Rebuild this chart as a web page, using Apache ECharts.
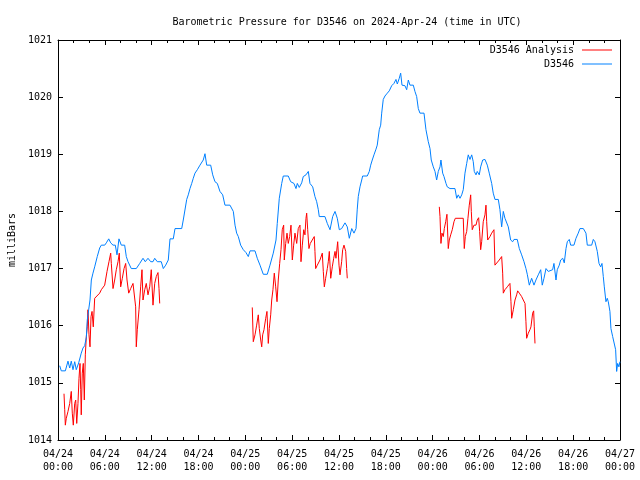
<!DOCTYPE html>
<html>
<head>
<meta charset="utf-8">
<script src="https://cdn.jsdelivr.net/npm/echarts@6/dist/echarts.min.js"></script>
<style>html,body{margin:0;padding:0;background:#fff}#c{width:640px;height:480px}</style>
</head>
<body>
<div id="c"></div>
<script>
// Hours since 2024-04-24 00:00 UTC
var blueHours = [0.22,0.42,0.94,1.28,1.50,1.70,1.92,2.14,2.34,2.65,2.98,3.20,3.42,3.63,3.75,3.93,4.10,4.27,4.48,4.70,5.03,5.34,5.55,5.76,5.98,6.19,6.50,6.75,7.05,7.34,7.56,7.81,8.11,8.54,8.75,8.97,9.39,10.03,10.47,10.89,11.18,11.53,11.88,12.17,12.39,12.72,13.23,13.45,13.49,13.80,14.13,14.35,14.77,14.99,15.85,16.05,16.27,16.49,16.69,16.91,17.13,17.33,17.55,17.85,18.19,18.61,18.83,19.05,19.56,19.82,20.11,20.41,20.75,21.10,21.39,22.03,22.46,22.68,22.89,23.10,23.40,23.74,24.08,24.38,24.60,25.24,25.53,25.88,26.30,26.81,27.16,27.58,27.93,28.09,28.35,28.66,28.86,29.50,29.81,30.23,30.49,30.66,30.91,31.22,31.42,31.77,32.07,32.28,32.63,32.92,33.14,33.35,33.47,34.20,34.50,34.85,35.19,35.49,35.78,36.04,36.34,36.77,37.06,37.32,37.63,37.92,38.18,38.34,38.47,38.69,38.91,39.03,39.62,39.88,40.06,40.26,40.48,40.74,40.90,41.16,41.34,41.47,41.67,41.89,42.19,42.44,42.75,43.04,43.30,43.47,43.72,43.90,44.07,44.45,44.67,44.88,45.09,45.52,45.73,45.95,46.16,46.37,46.89,47.14,47.44,47.66,47.82,48.08,48.30,48.51,48.72,48.94,49.06,49.28,49.45,49.71,49.87,50.22,50.86,51.08,51.28,51.50,51.72,51.92,52.14,52.36,52.56,52.78,53.00,53.20,53.33,53.55,53.71,53.97,54.15,54.41,54.70,55.00,55.25,55.56,55.76,55.98,56.41,56.62,56.84,57.05,57.26,57.48,57.69,57.99,58.25,58.42,58.84,59.10,59.40,59.70,59.95,60.12,60.38,60.68,60.98,61.23,61.53,61.84,62.04,62.26,62.52,62.81,63.03,63.37,63.54,63.80,63.96,64.22,64.40,64.66,64.86,65.08,65.25,65.50,65.68,66.10,66.36,66.65,66.87,67.30,67.64,67.81,68.37,68.58,68.79,69.09,69.31,69.52,69.69,69.86,69.99,70.20,70.37,70.50,70.71,70.84,71.06,71.27,71.44,71.57,71.70,71.86,71.99];
var bluePressure = [1015.30,1015.21,1015.21,1015.38,1015.26,1015.38,1015.23,1015.37,1015.23,1015.35,1015.52,1015.61,1015.65,1015.80,1016.10,1016.28,1016.45,1016.80,1016.92,1017.03,1017.21,1017.36,1017.41,1017.40,1017.41,1017.45,1017.52,1017.45,1017.41,1017.41,1017.24,1017.52,1017.41,1017.41,1017.21,1017.12,1017.00,1017.00,1017.09,1017.18,1017.12,1017.18,1017.12,1017.12,1017.18,1017.12,1017.12,1017.09,1017.00,1017.06,1017.15,1017.52,1017.52,1017.70,1017.70,1017.85,1017.88,1018.21,1018.29,1018.40,1018.49,1018.58,1018.67,1018.73,1018.81,1018.90,1019.01,1018.81,1018.81,1018.64,1018.52,1018.49,1018.35,1018.29,1018.11,1018.11,1018.00,1017.76,1017.62,1017.56,1017.41,1017.33,1017.28,1017.21,1017.31,1017.31,1017.18,1017.06,1016.90,1016.90,1017.06,1017.27,1017.50,1017.79,1018.23,1018.49,1018.62,1018.62,1018.52,1018.49,1018.40,1018.49,1018.42,1018.50,1018.61,1018.64,1018.70,1018.49,1018.43,1018.26,1018.17,1018.03,1017.91,1017.91,1017.79,1017.68,1017.91,1018.00,1017.88,1017.68,1017.70,1017.80,1017.73,1017.53,1017.70,1017.62,1017.70,1018.04,1018.26,1018.43,1018.55,1018.62,1018.62,1018.70,1018.81,1018.90,1018.99,1019.09,1019.16,1019.43,1019.51,1019.72,1019.96,1020.02,1020.07,1020.11,1020.20,1020.24,1020.31,1020.23,1020.33,1020.42,1020.21,1020.20,1020.13,1020.30,1020.21,1020.21,1020.10,1020.01,1019.80,1019.72,1019.72,1019.43,1019.22,1019.10,1018.90,1018.78,1018.70,1018.55,1018.70,1018.78,1018.90,1018.67,1018.61,1018.49,1018.43,1018.40,1018.40,1018.23,1018.29,1018.23,1018.29,1018.38,1018.67,1018.84,1018.99,1018.91,1018.99,1018.87,1018.70,1018.64,1018.70,1018.64,1018.78,1018.90,1018.91,1018.81,1018.67,1018.49,1018.32,1018.21,1018.21,1018.03,1017.73,1018.00,1017.88,1017.91,1017.73,1017.50,1017.47,1017.51,1017.51,1017.35,1017.24,1017.12,1017.00,1016.90,1016.71,1016.83,1016.71,1016.80,1016.89,1016.98,1016.71,1016.83,1017.00,1016.95,1016.92,1016.98,1017.09,1016.80,1016.98,1017.06,1017.15,1017.18,1017.10,1017.35,1017.47,1017.51,1017.41,1017.41,1017.53,1017.62,1017.70,1017.70,1017.62,1017.41,1017.41,1017.51,1017.47,1017.30,1017.09,1017.03,1017.09,1016.86,1016.68,1016.42,1016.48,1016.42,1016.25,1015.95,1015.81,1015.78,1015.58,1015.20,1015.34,1015.28,1015.37];

// Analysis series; null pressure marks a gap between runs
var analysisHours = [0.77,0.86,0.94,1.06,1.28,1.50,1.70,1.83,1.96,2.14,2.27,2.40,2.56,2.69,2.82,2.91,2.98,3.11,3.24,3.37,3.50,3.63,3.75,3.84,3.97,4.10,4.23,4.36,4.52,4.70,4.91,5.34,5.55,5.98,6.28,6.53,6.75,6.83,7.05,7.26,7.47,7.69,7.85,8.03,8.24,8.46,8.67,8.84,9.06,9.31,9.61,9.83,9.95,10.03,10.16,10.38,10.59,10.76,10.89,11.11,11.31,11.53,11.75,11.95,12.17,12.39,12.59,12.81,12.94,13.03,
  18.0,
  24.89,25.02,25.24,25.45,25.66,25.79,25.97,26.10,26.22,26.39,26.61,26.77,26.94,27.07,27.25,27.38,27.54,27.71,27.89,28.06,28.22,28.40,28.57,28.73,28.91,28.99,29.17,29.34,29.50,29.68,29.85,30.02,30.19,30.36,30.58,30.78,31.00,31.13,31.30,31.48,31.64,31.77,31.86,31.99,32.15,32.32,32.50,32.83,32.92,33.01,33.22,33.56,33.86,33.99,34.12,34.29,34.50,34.63,34.76,34.94,35.14,35.32,35.49,35.61,35.83,36.00,36.13,36.34,36.47,36.64,36.77,36.86,36.98,37.06,
  42.0,
  48.85,48.94,49.06,49.19,49.36,49.49,49.67,49.83,50.00,50.13,50.31,50.51,50.73,50.90,51.92,52.05,52.18,52.36,52.52,52.69,52.87,52.95,53.07,53.29,53.55,53.71,53.89,54.02,54.15,54.28,54.48,54.70,54.83,54.92,55.05,55.34,55.56,55.85,55.98,56.20,56.53,56.84,56.97,57.05,57.26,57.56,57.90,58.03,58.12,58.33,58.55,58.76,58.89,59.10,59.40,59.61,59.83,59.95,60.04,60.25,60.46,60.59,60.81,60.94,61.02,61.11];
var analysisPressure = [1014.81,1014.53,1014.26,1014.38,1014.50,1014.64,1014.85,1014.47,1014.26,1014.64,1014.70,1014.29,1014.64,1015.08,1015.34,1014.88,1014.44,1015.17,1015.34,1014.70,1015.49,1015.81,1015.98,1016.28,1015.84,1015.63,1016.16,1016.25,1015.98,1016.48,1016.51,1016.57,1016.63,1016.71,1016.95,1017.12,1017.27,1017.09,1016.65,1016.80,1016.98,1017.12,1017.27,1016.68,1016.83,1017.00,1017.09,1016.80,1016.57,1016.65,1016.74,1016.77,1016.33,1015.63,1015.93,1016.28,1016.68,1016.98,1016.45,1016.63,1016.74,1016.54,1016.68,1016.98,1016.36,1016.74,1016.86,1016.93,1016.65,1016.39,
  null,
  1016.32,1015.72,1015.84,1016.01,1016.19,1015.95,1015.75,1015.63,1015.84,1015.93,1016.13,1016.25,1015.69,1015.95,1016.19,1016.45,1016.63,1016.92,1016.68,1016.42,1016.80,1017.09,1017.33,1017.68,1017.76,1017.15,1017.44,1017.62,1017.44,1017.56,1017.76,1017.15,1017.41,1017.62,1017.44,1017.70,1017.76,1017.12,1017.41,1017.68,1017.59,1017.88,1017.97,1017.68,1017.35,1017.44,1017.47,1017.56,1017.30,1017.00,1017.06,1017.15,1017.27,1016.95,1016.68,1016.83,1017.00,1017.12,1017.30,1016.83,1017.03,1017.18,1017.30,1017.18,1017.47,1017.06,1016.89,1017.12,1017.33,1017.41,1017.44,1017.30,1017.00,1016.83,
  null,
  1018.08,1017.91,1017.44,1017.62,1017.56,1017.70,1017.82,1017.95,1017.35,1017.50,1017.59,1017.68,1017.82,1017.88,1017.88,1017.35,1017.56,1017.65,1017.88,1018.11,1018.29,1018.00,1017.68,1017.76,1017.76,1017.85,1017.89,1017.65,1017.33,1017.47,1017.82,1017.94,1018.11,1017.82,1017.50,1017.56,1017.62,1017.68,1017.06,1017.09,1017.15,1017.21,1016.92,1016.57,1016.63,1016.68,1016.74,1016.42,1016.13,1016.28,1016.45,1016.54,1016.61,1016.57,1016.51,1016.45,1016.39,1016.07,1015.78,1015.87,1015.93,1015.98,1016.22,1016.26,1015.98,1015.69];

var xTickLabels = ['04/24\n00:00','04/24\n06:00','04/24\n12:00','04/24\n18:00','04/25\n00:00','04/25\n06:00','04/25\n12:00','04/25\n18:00','04/26\n00:00','04/26\n06:00','04/26\n12:00','04/26\n18:00','04/27\n00:00'];
var seriesNames = ['D3546 Analysis', 'D3546'];
var titleText = 'Barometric Pressure for D3546 on 2024-Apr-24 (time in UTC)';
var yAxisTitle = 'milliBars';

function pairs(xs, ys) {
  var out = [];
  for (var i = 0; i < xs.length; i++) out.push([xs[i], ys[i] === null ? '-' : ys[i]]);
  return out;
}

var FONT = 'DejaVu Sans Mono';
var chart = echarts.init(document.getElementById('c'), null, {renderer: 'canvas'});
var axisLine = {show: true, onZero: false, lineStyle: {color: '#000', width: 1}};
chart.setOption({
  animation: false,
  backgroundColor: '#fff',
  textStyle: {fontFamily: FONT, color: '#000', fontSize: 10},
  title: {
    text: titleText, left: 342, top: 12, textAlign: 'center',
    textStyle: {fontFamily: FONT, fontSize: 10, fontWeight: 'normal', color: '#000'}
  },
  legend: {
    orient: 'vertical', right: 28, top: 45, padding: 0, itemGap: 4,
    align: 'right', itemWidth: 30, itemHeight: 1,
    icon: 'rect',
    textStyle: {fontFamily: FONT, fontSize: 10, color: '#000', padding: [0, 3, 0, 0]},
    data: seriesNames
  },
  grid: {left: 58, right: 20, top: 40, bottom: 40, containLabel: false, outerBoundsMode: 'none'},
  xAxis: [{
    type: 'value', min: 0, max: 72, interval: 6, position: 'bottom',
    axisLine: axisLine,
    axisTick: {show: true, inside: true, length: 5, lineStyle: {color: '#000'}},
    minorTick: {show: true, splitNumber: 3, length: 3, lineStyle: {color: '#000'}},
    splitLine: {show: false},
    axisLabel: {
      margin: 8, fontFamily: FONT, fontSize: 10, color: '#000', lineHeight: 13,
      formatter: function (v) { return xTickLabels[Math.round(v / 6)]; }
    }
  }, {
    type: 'value', min: 0, max: 72, interval: 6, position: 'top',
    axisLine: axisLine,
    axisTick: {show: true, inside: true, length: 5, lineStyle: {color: '#000'}},
    minorTick: {show: true, splitNumber: 3, length: 3, lineStyle: {color: '#000'}},
    splitLine: {show: false}, axisLabel: {show: false}
  }],
  yAxis: [{
    type: 'value', min: 1014, max: 1021, interval: 1, position: 'left',
    name: yAxisTitle, nameLocation: 'middle', nameGap: 38, nameRotate: 90,
    nameTextStyle: {fontFamily: FONT, fontSize: 10, color: '#000'},
    axisLine: axisLine,
    axisTick: {show: true, inside: true, length: 5, lineStyle: {color: '#000'}},
    splitLine: {show: false},
    axisLabel: {margin: 6, fontFamily: FONT, fontSize: 10, color: '#000',
      formatter: function (v) { return String(v); }}
  }, {
    type: 'value', min: 1014, max: 1021, interval: 1, position: 'right',
    axisLine: axisLine,
    axisTick: {show: true, inside: true, length: 5, lineStyle: {color: '#000'}},
    splitLine: {show: false}, axisLabel: {show: false}
  }],
  series: [{
    name: seriesNames[0], type: 'line', xAxisIndex: 0, yAxisIndex: 0,
    data: pairs(analysisHours, analysisPressure),
    showSymbol: false, connectNulls: false,
    lineStyle: {color: '#ff0000', width: 1}, itemStyle: {color: '#ff0000'}
  }, {
    name: seriesNames[1], type: 'line', xAxisIndex: 0, yAxisIndex: 0,
    data: pairs(blueHours, bluePressure),
    showSymbol: false,
    lineStyle: {color: '#0080ff', width: 1}, itemStyle: {color: '#0080ff'}
  }]
});
</script>
</body>
</html>
